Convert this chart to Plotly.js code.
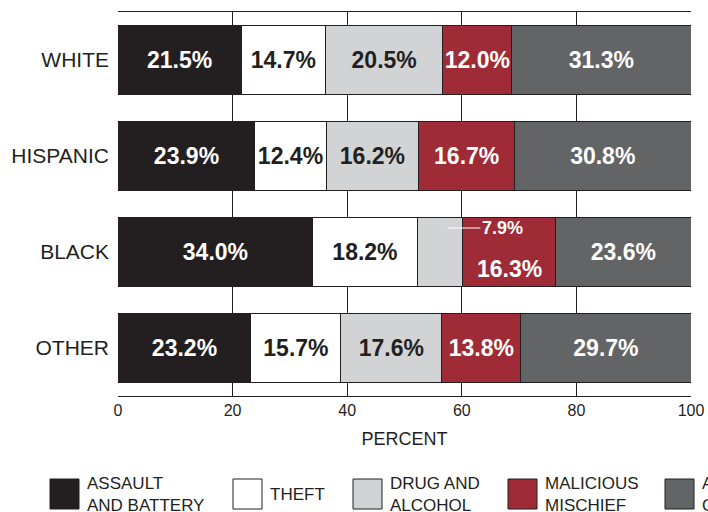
<!DOCTYPE html>
<html>
<head>
<meta charset="utf-8">
<script src="https://cdn.plot.ly/plotly-3.0.1.min.js"></script>
<style>html,body{margin:0;padding:0;background:#fff;}#chart{width:708px;height:512px;}</style>
</head>
<body>
<div id="chart"></div>
<script>
const categories = ['WHITE', 'HISPANIC', 'BLACK', 'OTHER'];
const seriesNames = ['ASSAULT<br>AND BATTERY', 'THEFT', 'DRUG AND<br>ALCOHOL', 'MALICIOUS<br>MISCHIEF', 'ALL<br>OTHER'];
const assaultBattery = [21.5, 23.9, 34.0, 23.2];
const theft = [14.7, 12.4, 18.2, 15.7];
const drugAlcohol = [20.5, 16.2, 7.9, 17.6];
const maliciousMischief = [12.0, 16.7, 16.3, 13.8];
const allOther = [31.3, 30.8, 23.6, 29.7];
const xTicks = [0, 20, 40, 60, 80, 100];

const seriesValues = [assaultBattery, theft, drugAlcohol, maliciousMischief, allOther];
const colors = ['#231f20', '#ffffff', '#d1d3d4', '#9e2b35', '#636466'];
const textColors = ['#ffffff', '#231f20', '#231f20', '#ffffff', '#ffffff'];
const ink = '#231f20';
const font = 'Liberation Sans, Arial, Helvetica, sans-serif';

// labels placed separately (BLACK row: drug & malicious)
const special = {2: [2], 3: [2]};

const traces = seriesValues.map((vals, si) => ({
  type: 'bar',
  orientation: 'h',
  name: seriesNames[si],
  y: categories,
  x: vals,
  text: vals.map((v, ci) => (special[si] && special[si].includes(ci)) ? '' : v.toFixed(1) + '%'),
  texttemplate: '%{text}',
  textposition: 'inside',
  insidetextanchor: 'middle',
  textangle: 0,
  constraintext: 'none',
  insidetextfont: {family: font, size: 23, color: textColors[si], weight: 'bold'},
  marker: {color: colors[si], line: {color: ink, width: 1}},
  hoverinfo: 'skip',
  showlegend: false
}));

const annotations = [];
const shapes = [];
// BLACK row special labels
const bi = categories.indexOf('BLACK');
const drugStart = assaultBattery[bi] + theft[bi];
annotations.push({
  x: drugStart + 5.3, y: 'BLACK', xref: 'x', yref: 'y', yshift: 24,
  text: '<b>' + drugAlcohol[bi].toFixed(1) + '%</b>',
  font: {family: font, size: 18, color: '#ffffff'},
  showarrow: true, arrowhead: 0, arrowwidth: 1, arrowcolor: '#ffffff',
  ax: 55, ay: 0, standoff: 0, xanchor: 'center'
});
const mmStart = drugStart + drugAlcohol[bi];
annotations.push({
  x: mmStart + maliciousMischief[bi] / 2, y: 'BLACK', xref: 'x', yref: 'y', yshift: -17,
  text: '<b>' + maliciousMischief[bi].toFixed(1) + '%</b>',
  font: {family: font, size: 23, color: '#ffffff'},
  showarrow: false
});

// manual legend (extends past the right edge like the reference)
const legendX = [50, 233, 353, 508, 665];
const W = 708, H = 512, L = 118, R = 17, T = 12, B = 116;
const pw = W - L - R, ph = H - T - B;
const px = p => (p - L) / pw;
const py = p => (H - B - p) / ph;
seriesNames.forEach((nm, i) => {
  shapes.push({type: 'rect', xref: 'paper', yref: 'paper',
    x0: px(legendX[i]), x1: px(legendX[i] + 29), y0: py(509), y1: py(479),
    fillcolor: colors[i], line: {color: ink, width: 1}});
  annotations.push({xref: 'paper', yref: 'paper', x: px(legendX[i] + 35), y: py(494),
    xanchor: 'left', yanchor: 'middle', align: 'left', showarrow: false,
    text: nm, font: {family: font, size: 17, color: ink}});
});

const layout = {
  width: W, height: H,
  margin: {l: L, r: R, t: T, b: B},
  paper_bgcolor: '#ffffff', plot_bgcolor: '#ffffff',
  barmode: 'stack',
  bargap: 0.28,
  showlegend: false,
  font: {family: font, color: ink},
  xaxis: {
    range: [0, 100], tickvals: xTicks, ticktext: xTicks.map(String),
    showgrid: true, gridcolor: ink, gridwidth: 1,
    showline: true, linecolor: ink, linewidth: 1, mirror: true,
    zeroline: false, ticks: '',
    tickfont: {family: font, size: 16, color: ink},
    title: {text: 'PERCENT', font: {family: font, size: 18, color: ink}, standoff: 14},
    fixedrange: true
  },
  yaxis: {
    type: 'category', categoryorder: 'array', categoryarray: categories,
    autorange: 'reversed',
    showline: false, showgrid: false, zeroline: false, ticks: '',
    ticklabelstandoff: 8,
    tickfont: {family: font, size: 21, color: ink},
    fixedrange: true
  },
  annotations: annotations,
  shapes: shapes
};

Plotly.newPlot('chart', traces, layout, {displayModeBar: false, staticPlot: true});
</script>
</body>
</html>
